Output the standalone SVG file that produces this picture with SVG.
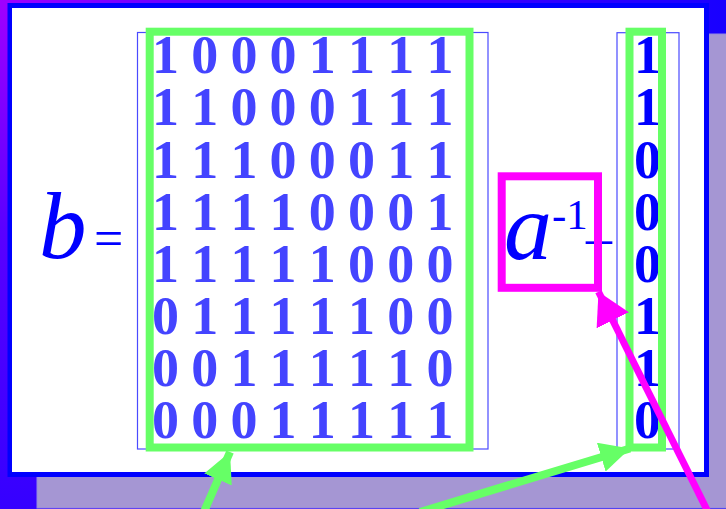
<svg xmlns="http://www.w3.org/2000/svg" width="726" height="509" viewBox="0 0 726 509">
  <defs>
    <radialGradient id="bgGrad" gradientUnits="userSpaceOnUse" cx="0" cy="0" r="760">
      <stop offset="0" stop-color="#a000ff"/>
      <stop offset="0.3" stop-color="#5a00ff"/>
      <stop offset="1" stop-color="#1400ff"/>
    </radialGradient>
    <marker id="arrowGreen" markerUnits="userSpaceOnUse" markerWidth="32" markerHeight="30" refX="30" refY="15" orient="auto">
      <path d="M0,0 L30,15 L0,30 Z" fill="#66ff66"/>
    </marker>
    <marker id="arrowMagenta" markerUnits="userSpaceOnUse" markerWidth="34" markerHeight="36" refX="32" refY="18" orient="auto">
      <path d="M0,0 L32,18 L0,36 Z" fill="#ff00ff"/>
    </marker>
    <style>
      .mat { font-family: "Liberation Serif", "Times New Roman", serif; font-weight: bold; font-size: 54px; fill: #4444ff; text-anchor: middle; }
      .vec { font-family: "Liberation Serif", "Times New Roman", serif; font-weight: bold; font-size: 54px; fill: #0000ff; text-anchor: middle; }
      .sym { font-family: "Liberation Serif", "Times New Roman", serif; fill: #0000ff; }
      .ital { font-style: italic; }
      .thin { fill: none; stroke: #4a4aff; stroke-width: 1.2; }
      .hl { fill: none; stroke: #66ff66; stroke-width: 8; }
      .hlm { fill: none; stroke: #ff00ff; stroke-width: 8; }
      .gline { stroke: #66ff66; stroke-width: 8; fill: none; }
      .mline { stroke: #ff00ff; stroke-width: 7; fill: none; }
    </style>
  </defs>

  <g id="background">
    <rect x="0" y="0" width="726" height="509" fill="url(#bgGrad)"/>
    <rect x="37" y="34" width="700" height="474" fill="#a596d3" stroke="#9488e2" stroke-width="1"/>
    <rect x="7.5" y="3" width="701.5" height="474" fill="#0000ff"/>
    <rect x="12" y="8" width="692" height="464" fill="#ffffff"/>
  </g>

  <g id="label-b">
    <text class="sym ital" x="39" y="258" font-size="95">b</text>
    <text class="sym" x="94" y="256" font-size="52">=</text>
  </g>

  <g id="matrix">
    <rect class="thin" x="137.5" y="32.5" width="350.5" height="416.5"/>
    <g class="mat">
      <text x="165.5 204.7 243.9 283.1 322.3 361.5 400.7 439.9" y="73">10001111</text>
      <text x="165.5 204.7 243.9 283.1 322.3 361.5 400.7 439.9" y="125">11000111</text>
      <text x="165.5 204.7 243.9 283.1 322.3 361.5 400.7 439.9" y="177.5">11100011</text>
      <text x="165.5 204.7 243.9 283.1 322.3 361.5 400.7 439.9" y="229.5">11110001</text>
      <text x="165.5 204.7 243.9 283.1 322.3 361.5 400.7 439.9" y="281.5">11111000</text>
      <text x="165.5 204.7 243.9 283.1 322.3 361.5 400.7 439.9" y="334">01111100</text>
      <text x="165.5 204.7 243.9 283.1 322.3 361.5 400.7 439.9" y="386">00111110</text>
      <text x="165.5 204.7 243.9 283.1 322.3 361.5 400.7 439.9" y="438">00011111</text>
    </g>
    <rect class="hl" x="149.7" y="31.7" width="319.8" height="415.8"/>
  </g>

  <g id="label-a-inverse">
    <text class="sym ital" x="504" y="259" font-size="96">a</text>
    <text class="sym" x="552" y="229" font-size="43">-1</text>
    <text class="sym" x="586" y="254.5" font-size="52">–</text>
    <rect class="hlm" x="501.7" y="176.3" width="96.3" height="111.5"/>
  </g>

  <g id="vector">
    <rect class="thin" x="617" y="32.7" width="62" height="416.3" stroke="#6a6aff"/>
    <g class="vec">
      <text x="647.5" y="73">1</text>
      <text x="647.5" y="125">1</text>
      <text x="647.5" y="177.5">0</text>
      <text x="647.5" y="229.5">0</text>
      <text x="647.5" y="281.5">0</text>
      <text x="647.5" y="334">1</text>
      <text x="647.5" y="386">1</text>
      <text x="647.5" y="438">0</text>
    </g>
    <rect class="hl" x="629.5" y="31.7" width="32.5" height="415.8"/>
  </g>

  <g id="connectors">
    <line class="gline" x1="203" y1="514" x2="230" y2="452" marker-end="url(#arrowGreen)"/>
    <line class="gline" x1="420" y1="512" x2="630" y2="448.5" marker-end="url(#arrowGreen)"/>
    <line class="mline" x1="713" y1="522" x2="598.5" y2="291.7" marker-end="url(#arrowMagenta)"/>
  </g>
</svg>
